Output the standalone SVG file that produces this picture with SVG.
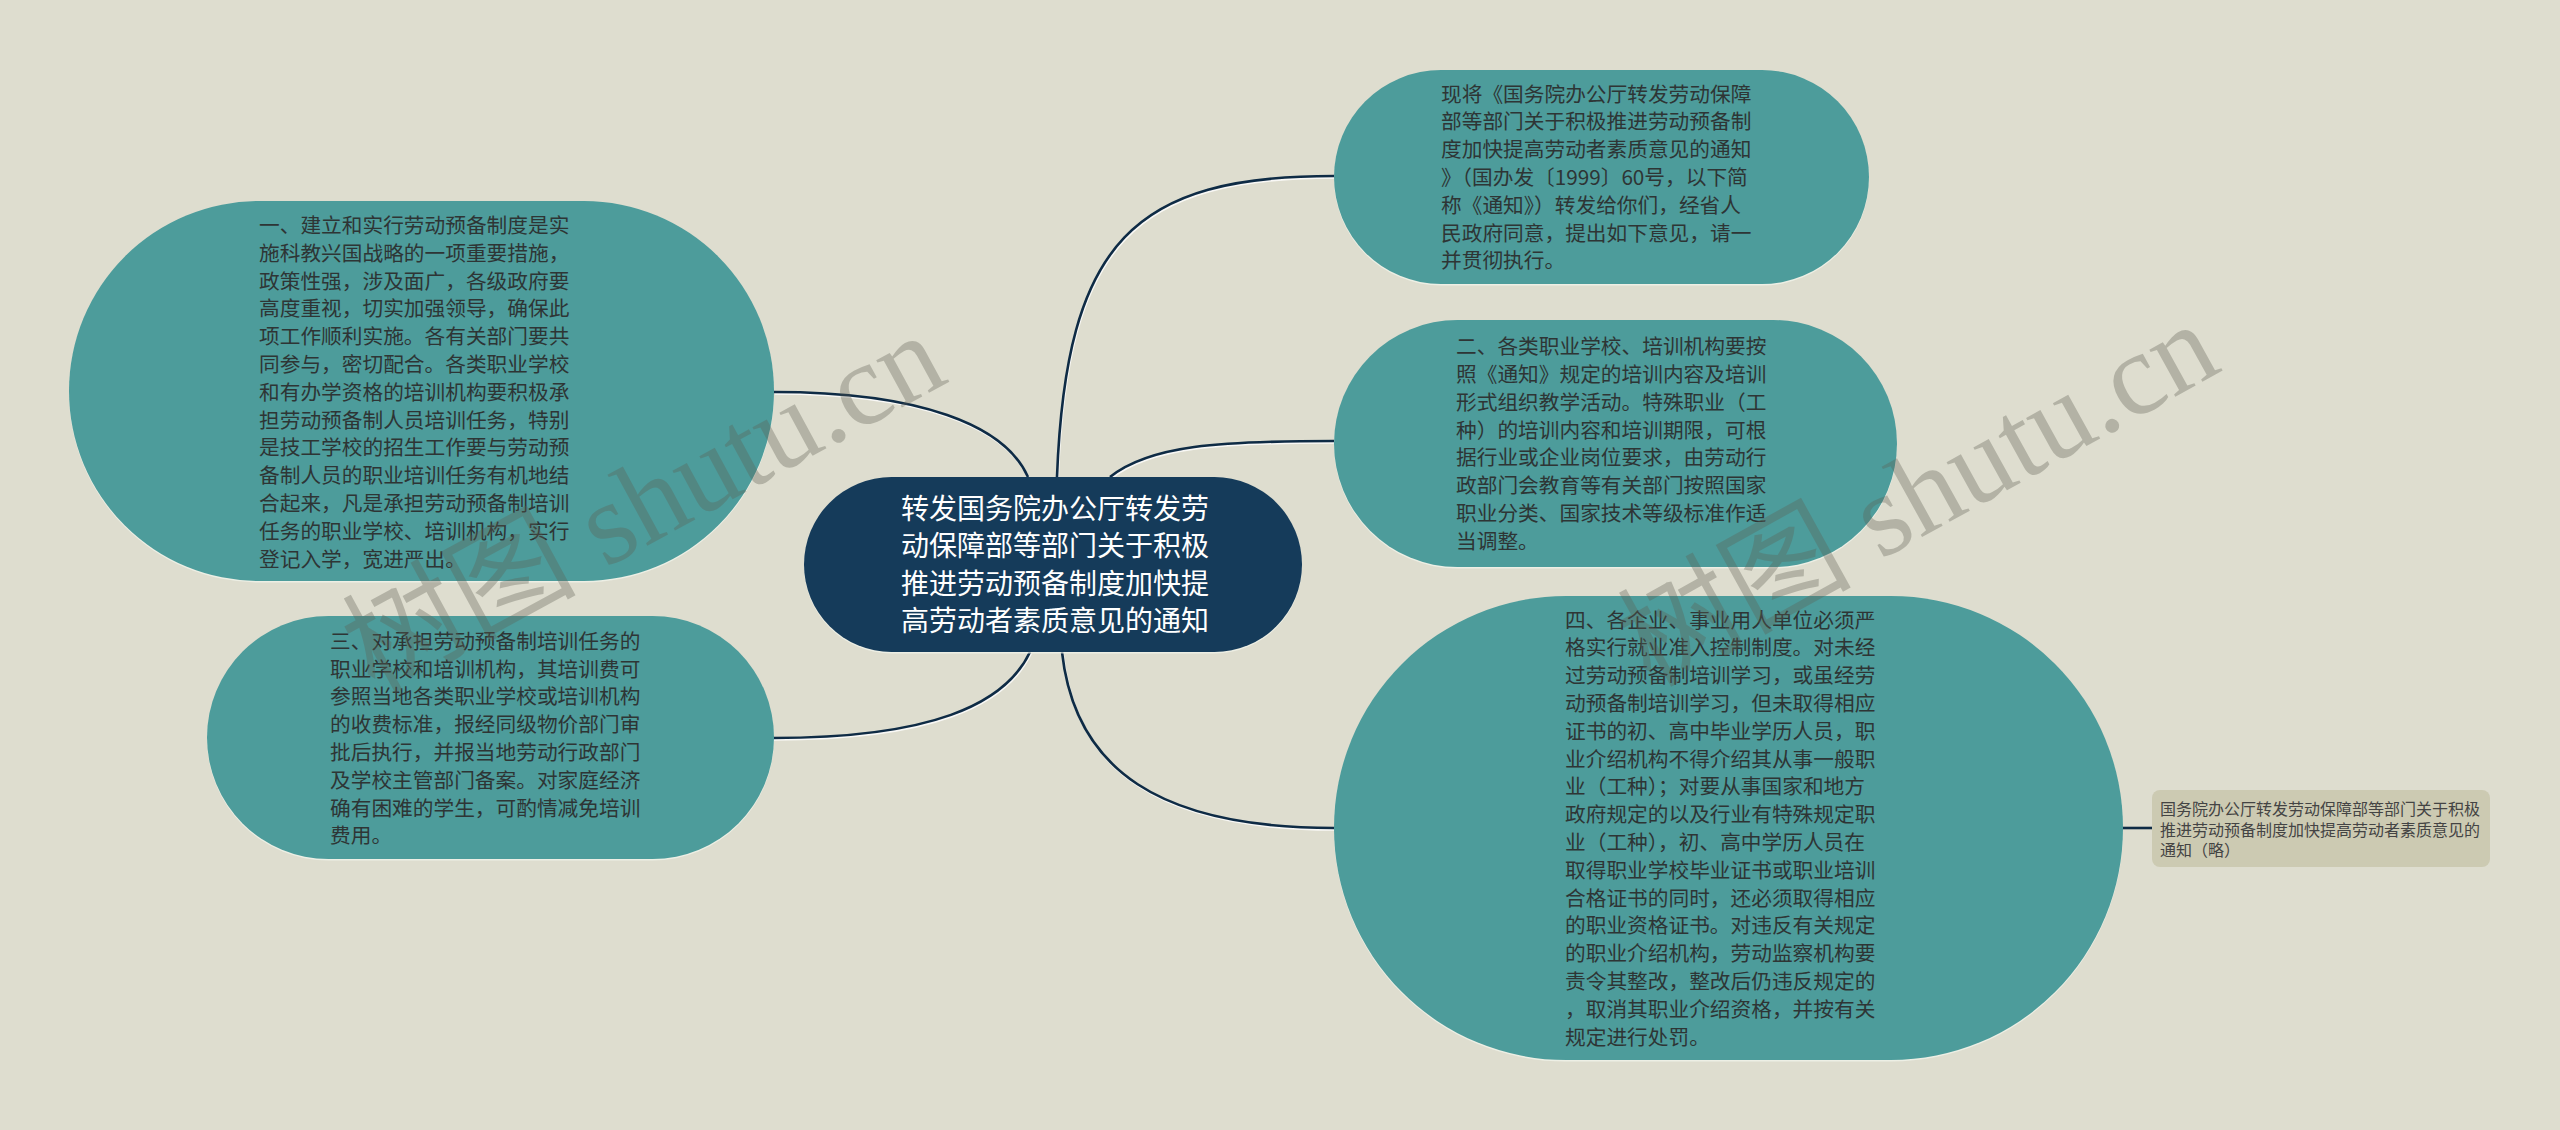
<svg xmlns="http://www.w3.org/2000/svg" width="2560" height="1130" viewBox="0 0 2560 1130">
<style>
.bg{fill:#DEDDCF}
.teal{fill:#4D9C9B}
.hl{fill:#F4F6EE;opacity:0.7}
.center{fill:#153B5A}
.leaf{fill:#CCCAB2}
.t{font-family:"Noto Sans CJK SC","Liberation Sans",sans-serif;font-size:20.7px;fill:#2E3535}
.ct{font-family:"Noto Sans CJK SC","Liberation Sans",sans-serif;font-size:28px;fill:#FFFFFF;text-anchor:middle}
.lt{font-family:"Noto Sans CJK SC","Liberation Sans",sans-serif;font-size:16px;fill:#444444}
.edge{fill:none;stroke:#0E2B45;stroke-width:2.6}
.edgehl{fill:none;stroke:#FFFFFF;stroke-width:2.4;opacity:0.8}
.wm{font-family:"Liberation Serif","Noto Sans CJK SC",serif;font-size:117px;fill:#5E5E52;opacity:0.33}
</style>
<rect class="bg" x="0" y="0" width="2560" height="1130"/>

<g id="connectors">
  <g transform="translate(0.8,1.6)">
    <path class="edgehl" d="M1028 477 C1005 425 920 392 774 392"/>
    <path class="edgehl" d="M1030 652 C1005 705 930 738 773 738"/>
    <path class="edgehl" d="M1057 477 C1066 240 1135 176 1334 176"/>
    <path class="edgehl" d="M1110 477 C1150 445 1220 441 1334 441"/>
    <path class="edgehl" d="M1062 652 C1075 770 1160 828 1334 828"/>
  </g>
  <path class="edge" d="M1028 477 C1005 425 920 392 774 392"/>
  <path class="edge" d="M1030 652 C1005 705 930 738 773 738"/>
  <path class="edge" d="M1057 477 C1066 240 1135 176 1334 176"/>
  <path class="edge" d="M1110 477 C1150 445 1220 441 1334 441"/>
  <path class="edge" d="M1062 652 C1075 770 1160 828 1334 828"/>
  <path class="edge" d="M2122 828 L2152 828"/>
</g>

<g id="center">
  <rect class="hl" x="804" y="478.5" width="498" height="175" rx="87.5"/>
  <rect class="center" x="804" y="477" width="498" height="175" rx="87.5"/>
  <text class="ct" x="1055" y="519">转发国务院办公厅转发劳</text>
  <text class="ct" x="1055" y="556.3">动保障部等部门关于积极</text>
  <text class="ct" x="1055" y="593.6">推进劳动预备制度加快提</text>
  <text class="ct" x="1055" y="631">高劳动者素质意见的通知</text>
</g>

<g id="node1">
  <rect class="hl" x="69" y="202.5" width="705" height="380" rx="190"/>
  <rect class="teal" x="69" y="201" width="705" height="380" rx="190"/>
  <text class="t" x="259" y="233">一、建立和实行劳动预备制度是实</text>
  <text class="t" x="259" y="260.8">施科教兴国战略的一项重要措施，</text>
  <text class="t" x="259" y="288.6">政策性强，涉及面广，各级政府要</text>
  <text class="t" x="259" y="316.4">高度重视，切实加强领导，确保此</text>
  <text class="t" x="259" y="344.2">项工作顺利实施。各有关部门要共</text>
  <text class="t" x="259" y="372">同参与，密切配合。各类职业学校</text>
  <text class="t" x="259" y="399.8">和有办学资格的培训机构要积极承</text>
  <text class="t" x="259" y="427.6">担劳动预备制人员培训任务，特别</text>
  <text class="t" x="259" y="455.4">是技工学校的招生工作要与劳动预</text>
  <text class="t" x="259" y="483.2">备制人员的职业培训任务有机地结</text>
  <text class="t" x="259" y="511">合起来，凡是承担劳动预备制培训</text>
  <text class="t" x="259" y="538.8">任务的职业学校、培训机构，实行</text>
  <text class="t" x="259" y="566.6">登记入学，宽进严出。</text>
</g>

<g id="node3">
  <rect class="hl" x="207" y="617.5" width="567" height="243" rx="121.5"/>
  <rect class="teal" x="207" y="616" width="567" height="243" rx="121.5"/>
  <text class="t" x="330" y="648.7">三、对承担劳动预备制培训任务的</text>
  <text class="t" x="330" y="676.5">职业学校和培训机构，其培训费可</text>
  <text class="t" x="330" y="704.3">参照当地各类职业学校或培训机构</text>
  <text class="t" x="330" y="732.1">的收费标准，报经同级物价部门审</text>
  <text class="t" x="330" y="759.9">批后执行，并报当地劳动行政部门</text>
  <text class="t" x="330" y="787.7">及学校主管部门备案。对家庭经济</text>
  <text class="t" x="330" y="815.5">确有困难的学生，可酌情减免培训</text>
  <text class="t" x="330" y="843.3">费用。</text>
</g>

<g id="node2">
  <rect class="hl" x="1334" y="71.5" width="535" height="214" rx="107"/>
  <rect class="teal" x="1334" y="70" width="535" height="214" rx="107"/>
  <text class="t" x="1441" y="101.6">现将《国务院办公厅转发劳动保障</text>
  <text class="t" x="1441" y="129.4">部等部门关于积极推进劳动预备制</text>
  <text class="t" x="1441" y="157.2">度加快提高劳动者素质意见的通知</text>
  <text class="t" x="1441" y="185">》（国办发〔1999〕60号，以下简</text>
  <text class="t" x="1441" y="212.8">称《通知》）转发给你们，经省人</text>
  <text class="t" x="1441" y="240.6">民政府同意，提出如下意见，请一</text>
  <text class="t" x="1441" y="268.4">并贯彻执行。</text>
</g>

<g id="node4">
  <rect class="hl" x="1334" y="321.5" width="563" height="247" rx="123.5"/>
  <rect class="teal" x="1334" y="320" width="563" height="247" rx="123.5"/>
  <text class="t" x="1456" y="354.2">二、各类职业学校、培训机构要按</text>
  <text class="t" x="1456" y="382">照《通知》规定的培训内容及培训</text>
  <text class="t" x="1456" y="409.8">形式组织教学活动。特殊职业（工</text>
  <text class="t" x="1456" y="437.6">种）的培训内容和培训期限，可根</text>
  <text class="t" x="1456" y="465.4">据行业或企业岗位要求，由劳动行</text>
  <text class="t" x="1456" y="493.2">政部门会教育等有关部门按照国家</text>
  <text class="t" x="1456" y="521">职业分类、国家技术等级标准作适</text>
  <text class="t" x="1456" y="548.8">当调整。</text>
</g>

<g id="node5">
  <rect class="hl" x="1334" y="597.5" width="789" height="464" rx="232"/>
  <rect class="teal" x="1334" y="596" width="789" height="464" rx="232"/>
  <text class="t" x="1565" y="627.5">四、各企业、事业用人单位必须严</text>
  <text class="t" x="1565" y="655.3">格实行就业准入控制制度。对未经</text>
  <text class="t" x="1565" y="683.1">过劳动预备制培训学习，或虽经劳</text>
  <text class="t" x="1565" y="710.9">动预备制培训学习，但未取得相应</text>
  <text class="t" x="1565" y="738.7">证书的初、高中毕业学历人员，职</text>
  <text class="t" x="1565" y="766.5">业介绍机构不得介绍其从事一般职</text>
  <text class="t" x="1565" y="794.3">业（工种）；对要从事国家和地方</text>
  <text class="t" x="1565" y="822.1">政府规定的以及行业有特殊规定职</text>
  <text class="t" x="1565" y="849.9">业（工种），初、高中学历人员在</text>
  <text class="t" x="1565" y="877.7">取得职业学校毕业证书或职业培训</text>
  <text class="t" x="1565" y="905.5">合格证书的同时，还必须取得相应</text>
  <text class="t" x="1565" y="933.3">的职业资格证书。对违反有关规定</text>
  <text class="t" x="1565" y="961.1">的职业介绍机构，劳动监察机构要</text>
  <text class="t" x="1565" y="988.9">责令其整改，整改后仍违反规定的</text>
  <text class="t" x="1565" y="1016.7">，取消其职业介绍资格，并按有关</text>
  <text class="t" x="1565" y="1044.5">规定进行处罚。</text>
</g>

<g id="leaf">
  <rect class="leaf" x="2152" y="790" width="338" height="77" rx="8"/>
  <text class="lt" x="2160" y="815">国务院办公厅转发劳动保障部等部门关于积极</text>
  <text class="lt" x="2160" y="835.7">推进劳动预备制度加快提高劳动者素质意见的</text>
  <text class="lt" x="2160" y="856.4">通知（略）</text>
</g>

<g id="watermark">
  <text class="wm" transform="translate(374,694) rotate(-28.5)">树图 shutu.cn</text>
  <text class="wm" transform="translate(1650,688) rotate(-29)">树图 shutu.cn</text>
</g>
</svg>
